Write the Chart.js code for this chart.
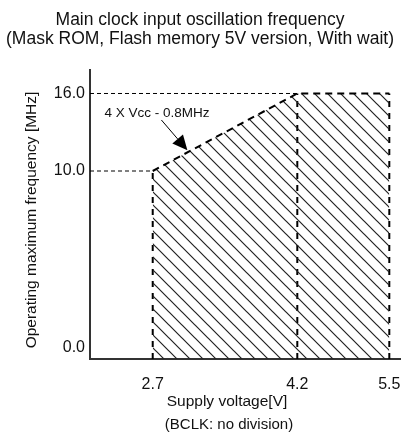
<!DOCTYPE html>
<html>
<head>
<meta charset="utf-8">
<script src="https://cdn.jsdelivr.net/npm/chart.js@4/dist/chart.umd.min.js"></script>
<style>
  html, body { margin: 0; padding: 0; background: #fff; }
  #wrap { width: 404px; height: 435px; }
</style>
</head>
<body>
<div id="wrap"><canvas id="freqChart" width="404" height="435"></canvas></div>
<script>
// corners of the operating area
const supplyVoltage = [2.7, 4.2, 5.5];      // V
const maxFrequency  = [10.0, 16.0, 16.0];   // MHz
const xTickValues = [2.7, 4.2, 5.5];
const yTickValues = [0.0, 10.0, 16.0];
const noteText = '4 X Vcc - 0.8MHz';

// axis ranges (the drawing is not to scale, so each axis is piecewise linear)
const X_MIN = 2.05, X_MAX = 5.65;
const Y_MIN = -0.6, Y_MAX = 17.8;
const anchors = {
  x: [[X_MIN, 0], [2.7, 0.2023], [4.2, 0.6687], [5.5, 0.9655], [X_MAX, 1]],
  y: [[Y_MIN, 0], [0, 0.038], [10, 0.6505], [16, 0.9187], [Y_MAX, 1]]
};

const FONT = '"Liberation Sans", Arial, sans-serif';

function toFrac(list, v) {
  for (let i = 1; i < list.length; i++) {
    if (v <= list[i][0] || i === list.length - 1) {
      const a = list[i - 1], b = list[i];
      return a[1] + (v - a[0]) / (b[0] - a[0]) * (b[1] - a[1]);
    }
  }
}
function fromFrac(list, f) {
  for (let i = 1; i < list.length; i++) {
    if (f <= list[i][1] || i === list.length - 1) {
      const a = list[i - 1], b = list[i];
      return a[0] + (f - a[1]) / (b[1] - a[1]) * (b[0] - a[0]);
    }
  }
}

class PiecewiseScale extends Chart.LinearScale {
  getPixelForValue(value) {
    if (value === null || isNaN(value)) return NaN;
    return this.getPixelForDecimal(toFrac(anchors[this.axis], value));
  }
  getValueForPixel(pixel) {
    return fromFrac(anchors[this.axis], this.getDecimalForPixel(pixel));
  }
}
PiecewiseScale.id = 'piecewise';
PiecewiseScale.defaults = Chart.LinearScale.defaults;
Chart.register(PiecewiseScale);

// hatch pattern  \\\\
function makeHatch() {
  const c = document.createElement('canvas');
  const s = 13;
  c.width = s; c.height = s;
  const g = c.getContext('2d');
  g.strokeStyle = '#222';
  g.lineWidth = 1.2;
  g.beginPath();
  g.moveTo(-2, -2); g.lineTo(s + 2, s + 2);
  g.moveTo(-2, s - 2); g.lineTo(2, s + 2);
  g.moveTo(s - 2, -2); g.lineTo(s + 2, 2);
  g.stroke();
  return g.createPattern(c, 'repeat');
}

const pts = supplyVoltage.map((v, i) => ({ x: v, y: maxFrequency[i] }));

const datasets = [
  {
    label: 'operating area',
    data: pts,
    fill: 'start',
    backgroundColor: makeHatch(),
    borderColor: '#000',
    borderWidth: 2,
    borderDash: [7, 5]
  }
];
// vertical edges of the area
supplyVoltage.forEach((v, i) => {
  datasets.push({
    data: [{ x: v, y: Y_MIN }, { x: v, y: maxFrequency[i] }],
    borderColor: '#000', borderWidth: 2, borderDash: [6, 6], fill: false
  });
});
// guide lines from the y axis
[0, 1].forEach(i => {
  datasets.push({
    data: [{ x: X_MIN, y: maxFrequency[i] }, { x: supplyVoltage[i], y: maxFrequency[i] }],
    borderColor: '#000', borderWidth: 1, borderDash: [4, 3], fill: false
  });
});

// texts and the arrow note
const labelsPlugin = {
  id: 'labels',
  afterDatasetsDraw(chart) {
    const { ctx, scales: { x, y } } = chart;
    ctx.save();
    ctx.fillStyle = '#111';
    ctx.textAlign = 'center';
    ctx.textBaseline = 'middle';

    // note + arrow
    ctx.font = '13.5px ' + FONT;
    ctx.fillText(noteText, x.getPixelForValue(2.745), y.getPixelForValue(14.5));
    const x0 = x.getPixelForValue(2.79), y0 = y.getPixelForValue(13.95);
    const x1 = x.getPixelForValue(3.06), y1 = y.getPixelForValue(11.6);
    const ang = Math.atan2(y1 - y0, x1 - x0);
    const len = 15, half = 7;
    const bx = x1 - len * Math.cos(ang), by = y1 - len * Math.sin(ang);
    ctx.strokeStyle = '#000';
    ctx.lineWidth = 1;
    ctx.beginPath();
    ctx.moveTo(x0, y0); ctx.lineTo(bx, by);
    ctx.stroke();
    ctx.beginPath();
    ctx.moveTo(x1, y1);
    ctx.lineTo(bx + half * Math.sin(ang), by - half * Math.cos(ang));
    ctx.lineTo(bx - half * Math.sin(ang), by + half * Math.cos(ang));
    ctx.closePath();
    ctx.fillStyle = '#000';
    ctx.fill();

    // axis titles
    ctx.fillStyle = '#111';
    ctx.font = '15.5px ' + FONT;
    ctx.fillText('Supply voltage[V]', 227, 402);
    ctx.font = '15px ' + FONT;
    ctx.fillText('(BCLK: no division)', 229, 425);

    ctx.translate(32, 220);
    ctx.rotate(-Math.PI / 2);
    ctx.font = '15.5px ' + FONT;
    ctx.fillText('Operating maximum frequency [MHz]', 0, 0);
    ctx.restore();
  }
};

new Chart(document.getElementById('freqChart'), {
  type: 'line',
  data: { datasets },
  plugins: [labelsPlugin],
  options: {
    responsive: false,
    animation: false,
    layout: { padding: { left: 0, right: 4, top: 0, bottom: 0 } },
    elements: { point: { radius: 0, hoverRadius: 0 }, line: { tension: 0 } },
    plugins: {
      legend: { display: false },
      tooltip: { enabled: false },
      title: {
        display: true,
        text: ['Main clock input oscillation frequency',
               '(Mask ROM, Flash memory 5V version, With wait)'],
        color: '#111',
        font: { family: FONT, size: 17.5, weight: 'normal', lineHeight: '18.5px' },
        padding: { top: 11, bottom: 22 }
      }
    },
    scales: {
      x: {
        type: 'piecewise',
        min: X_MIN, max: X_MAX,
        afterBuildTicks: s => { s.ticks = xTickValues.map(v => ({ value: v })); },
        afterFit: s => { s.height = 76; s.paddingLeft = 0; s.paddingRight = 0; },
        ticks: {
          padding: 16, color: '#111', maxRotation: 0, autoSkip: false,
          font: { family: FONT, size: 16 },
          callback: v => v.toFixed(1)
        },
        grid: { display: false, drawTicks: false },
        border: { display: true, color: '#333', width: 2 }
      },
      y: {
        type: 'piecewise',
        min: Y_MIN, max: Y_MAX,
        afterBuildTicks: s => { s.ticks = yTickValues.map(v => ({ value: v })); },
        afterFit: s => { s.width = 90; s.paddingTop = 0; s.paddingBottom = 0; },
        ticks: {
          padding: 5, color: '#111', autoSkip: false,
          font: { family: FONT, size: 16 },
          callback: v => v.toFixed(1)
        },
        grid: { display: false, drawTicks: false },
        border: { display: true, color: '#333', width: 2 }
      }
    }
  }
});
</script>
</body>
</html>
